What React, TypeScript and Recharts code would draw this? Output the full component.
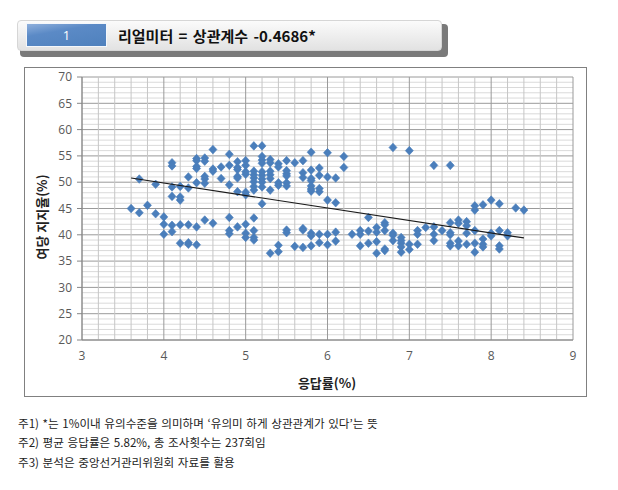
import React from 'react';
import { ScatterChart, Scatter, XAxis, YAxis, CartesianGrid } from 'recharts';

// 응답률(%) values
const responseRate: number[] = [
  3.6, 3.7, 3.7, 3.8, 3.9, 3.9,
  4.0, 4.0, 4.0,
  4.1, 4.1, 4.1, 4.1, 4.1, 4.1,
  4.2, 4.2, 4.2, 4.2, 4.2,
  4.3, 4.3, 4.3, 4.3, 4.3,
  4.4, 4.4, 4.4, 4.4, 4.4, 4.4, 4.4,
  4.5, 4.5, 4.5, 4.5, 4.5, 4.5,
  4.6, 4.6, 4.6, 4.6,
  4.7, 4.7,
  4.8, 4.8, 4.8, 4.8, 4.8, 4.8,
  4.9, 4.9, 4.9, 4.9, 4.9, 4.9, 4.9,
  5.0, 5.0, 5.0, 5.0, 5.0, 5.0, 5.0, 5.0, 5.0,
  5.1, 5.1, 5.1, 5.1, 5.1, 5.1, 5.1, 5.1, 5.1, 5.1, 5.1,
  5.2, 5.2, 5.2, 5.2, 5.2, 5.2, 5.2, 5.2, 5.2, 5.2,
  5.3, 5.3, 5.3, 5.3, 5.3, 5.3, 5.3,
  5.4, 5.4, 5.4, 5.4, 5.4, 5.4,
  5.5, 5.5, 5.5, 5.5, 5.5, 5.5, 5.5, 5.5,
  5.6, 5.6,
  5.7, 5.7, 5.7, 5.7, 5.7, 5.7,
  5.8, 5.8, 5.8, 5.8, 5.8, 5.8, 5.8, 5.8, 5.8, 5.8,
  5.9, 5.9, 5.9, 5.9, 5.9, 5.9,
  6.0, 6.0, 6.0, 6.0, 6.0,
  6.1, 6.1, 6.1, 6.1,
  6.2, 6.2,
  6.3,
  6.4, 6.4, 6.4,
  6.5, 6.5, 6.5,
  6.6, 6.6, 6.6, 6.6,
  6.7, 6.7, 6.7, 6.7, 6.7,
  6.8, 6.8, 6.8, 6.8,
  6.9, 6.9, 6.9, 6.9, 6.9,
  7.0, 7.0, 7.0,
  7.1, 7.1, 7.1,
  7.2,
  7.3, 7.3, 7.3, 7.3,
  7.4,
  7.5, 7.5, 7.5, 7.5, 7.5, 7.5,
  7.6, 7.6, 7.6, 7.6,
  7.7, 7.7, 7.7, 7.7,
  7.8, 7.8, 7.8, 7.8, 7.8,
  7.9, 7.9, 7.9, 7.9,
  8.0, 8.0, 8.0,
  8.1, 8.1, 8.1, 8.1,
  8.2, 8.2,
  8.3,
  8.4,
];

// 여당 지지율(%) values (same order as responseRate)
const partySupport: number[] = [
  45.0, 50.6, 44.2, 45.6, 49.6, 44.0,
  43.4, 42.0, 40.1,
  53.7, 53.1, 49.1, 47.3, 41.8, 40.6,
  49.2, 47.2, 46.6, 41.9, 38.4,
  51.0, 48.9, 41.9, 38.5, 38.2,
  54.5, 54.1, 53.0, 52.6, 49.9, 41.5, 38.1,
  54.6, 54.0, 51.1, 50.6, 49.8, 42.8,
  56.2, 52.5, 52.1, 42.2,
  52.9, 50.7,
  55.3, 53.2, 49.5, 43.3, 40.8, 40.2,
  53.9, 52.8, 52.4, 51.1, 50.8, 48.2, 41.5,
  54.1, 53.2, 52.0, 51.5, 48.1, 47.6, 42.0, 40.3, 39.5,
  56.9, 52.1, 51.4, 50.8, 50.1, 49.2, 48.5, 43.2, 40.8, 39.5, 39.0,
  56.9, 54.9, 54.2, 53.6, 52.0, 51.3, 50.6, 50.0, 49.1, 45.9,
  54.3, 53.7, 52.1, 51.4, 50.7, 48.5, 36.5,
  53.5, 52.9, 49.9, 49.4, 38.0, 36.8,
  54.1, 52.2, 51.6, 51.2, 49.9, 49.3, 40.9, 40.4,
  53.7, 37.8,
  54.1, 51.8, 50.9, 41.2, 40.9, 37.6,
  55.7, 52.3, 50.7, 50.3, 49.3, 48.7, 48.3, 40.3, 39.8, 37.9,
  52.7, 51.3, 48.8, 48.2, 40.1, 38.5,
  55.6, 51.0, 46.6, 40.1, 38.1,
  50.8, 46.1, 40.5, 38.8,
  54.9, 52.8,
  40.1,
  40.8, 40.1, 37.9,
  43.3, 40.7, 38.4,
  41.4, 40.5, 38.7, 36.5,
  42.3, 41.9, 40.8, 37.3, 37.0,
  56.6, 40.3, 39.9, 38.9,
  39.5, 38.9, 38.4, 37.7, 36.7,
  56.0, 38.2, 37.2,
  40.8, 40.1, 38.2,
  41.4,
  53.2, 41.5, 40.1, 38.9,
  40.8,
  53.2, 42.3, 40.4, 40.0, 38.4, 37.9,
  42.8, 42.2, 38.8, 37.9,
  42.5, 41.7, 40.3, 38.2,
  45.5, 44.7, 40.8, 38.4, 36.7,
  45.7, 39.2, 38.2, 37.7,
  46.6, 40.3, 39.8,
  45.9, 40.8, 37.9, 37.3,
  40.4, 39.8,
  45.1,
  44.7,
];

// linear trend line end points
const trendX: number[] = [3.6, 8.4];
const trendY: number[] = [50.8, 39.4];

// grid ticks (every 0.2 on x, every 1 on y); labelled every 1 on x and every 5 on y
const xTicks: number[] = [
  3, 3.2, 3.4, 3.6, 3.8, 4, 4.2, 4.4, 4.6, 4.8, 5, 5.2, 5.4, 5.6, 5.8, 6,
  6.2, 6.4, 6.6, 6.8, 7, 7.2, 7.4, 7.6, 7.8, 8, 8.2, 8.4, 8.6, 8.8, 9,
];
const yTicks: number[] = [
  20, 21, 22, 23, 24, 25, 26, 27, 28, 29, 30, 31, 32, 33, 34, 35, 36, 37, 38, 39,
  40, 41, 42, 43, 44, 45, 46, 47, 48, 49, 50, 51, 52, 53, 54, 55, 56, 57, 58, 59,
  60, 61, 62, 63, 64, 65, 66, 67, 68, 69, 70,
];
const xLabelTicks: number[] = [3, 4, 5, 6, 7, 8, 9];
const yLabelTicks: number[] = [20, 25, 30, 35, 40, 45, 50, 55, 60, 65, 70];

const title = '리얼미터 = 상관계수 -0.4686*';
const xLabel = '응답률(%)';
const yLabel = '여당 지지율(%)';
const notes: string[] = [
  '주1) *는 1%이내 유의수준을 의미하며 ‘유의미 하게 상관관계가 있다’는 뜻',
  '주2) 평균 응답률은 5.82%, 총 조사횟수는 237회임',
  '주3) 분석은 중앙선거관리위원회 자료를 활용',
];

const points = responseRate.map((x, i) => ({ x, y: partySupport[i] }));
const trend = trendX.map((x, i) => ({ x, y: trendY[i] }));

const Diamond = (props: any) => {
  const { cx, cy } = props;
  if (cx == null || cy == null) return <g />;
  const w = 4;
  const h = 4.3;
  return (
    <polygon
      points={`${cx},${cy - h} ${cx + w},${cy} ${cx},${cy + h} ${cx - w},${cy}`}
      fill="#4a7ebb"
      stroke="#4a7ebb"
      strokeWidth={0.6}
    />
  );
};

const Nothing = () => <g />;

const tickFont = '"Open Sans", "Noto Sans", sans-serif';
const korean = '"Noto Sans CJK KR", "Noto Sans", sans-serif';

const isNear = (a: number, b: number) => Math.abs(a - b) < 1e-6;

const XTick = (props: any) => {
  const { x, y, payload } = props;
  const v = payload.value;
  if (!xLabelTicks.some((t) => isNear(t, v))) return <g />;
  return (
    <text x={x} y={y} dy="0.71em" textAnchor="middle" fontSize={12} fill="#595959" fontFamily={tickFont}>
      {v}
    </text>
  );
};

const YTick = (props: any) => {
  const { x, y, payload } = props;
  const v = payload.value;
  if (!yLabelTicks.some((t) => isNear(t, v))) return <g />;
  return (
    <g>
      <line x1={x + 5} y1={y} x2={x + 10} y2={y} stroke="#868686" />
      <text x={x} y={y} dy="0.35em" textAnchor="end" fontSize={12} fill="#595959" fontFamily={tickFont}>
        {v}
      </text>
    </g>
  );
};

const HLine = (props: any) => {
  const { x1, y1, x2, y2, index } = props;
  const major = index % 5 === 0;
  return <line x1={x1} y1={y1} x2={x2} y2={y2} stroke={major ? '#9a9a9a' : '#dadada'} strokeWidth={1} />;
};
const VLine = (props: any) => {
  const { x1, y1, x2, y2, index } = props;
  const major = index % 5 === 0;
  return <line x1={x1} y1={y1} x2={x2} y2={y2} stroke={major ? '#9a9a9a' : '#c6c6c6'} strokeWidth={1} />;
};

export default function App() {
  return (
    <div
      style={{
        position: 'absolute',
        left: 0,
        top: 0,
        width: 618,
        height: 490,
        background: '#fff',
        fontFamily: korean,
        overflow: 'hidden',
      }}
    >
      {/* header */}
      <div style={{ position: 'absolute', left: 20, top: 24, width: 428, height: 33, background: '#7a7a7a', borderRadius: 4 }} />
      <div
        style={{
          position: 'absolute',
          left: 17,
          top: 20,
          width: 425,
          height: 31,
          boxSizing: 'border-box',
          background: 'linear-gradient(#fbfbfb, #e2e2e2)',
          border: '1px solid #d6d6d6',
          borderRadius: 4,
        }}
      />
      <div
        style={{
          position: 'absolute',
          left: 26,
          top: 23,
          width: 81,
          height: 24,
          boxSizing: 'border-box',
          background: 'linear-gradient(170deg, #8fb0dc 0%, #5b8ac6 35%, #4f81bd 100%)',
          border: '1px solid #f4f7fb',
          color: '#fff',
          fontSize: 13,
          lineHeight: '22px',
          textAlign: 'center',
          fontFamily: '"Open Sans", sans-serif',
        }}
      >
        1
      </div>
      <div
        style={{
          position: 'absolute',
          left: 118,
          top: 25,
          fontSize: 15,
          lineHeight: '22px',
          fontWeight: 700,
          color: '#111',
          whiteSpace: 'pre',
          wordSpacing: 2,
        }}
      >
        {title}
      </div>

      {/* chart frame */}
      <div
        style={{
          position: 'absolute',
          left: 24,
          top: 67,
          width: 563,
          height: 330,
          boxSizing: 'border-box',
          border: '1.5px solid #808080',
        }}
      />

      <div style={{ position: 'absolute', left: 0, top: 0 }}>
        <ScatterChart width={618} height={490} margin={{ top: 77, right: 45, bottom: 120, left: 32 }}>
          <CartesianGrid horizontal={HLine} vertical={VLine} />
          <XAxis
            type="number"
            dataKey="x"
            domain={[3, 9]}
            ticks={xTicks}
            interval={0}
            allowDataOverflow
            height={30}
            tick={XTick}
            tickLine={false}
            tickSize={5}
            tickMargin={6}
            axisLine={{ stroke: '#868686' }}
          />
          <YAxis
            type="number"
            dataKey="y"
            domain={[20, 70]}
            ticks={yTicks}
            interval={0}
            allowDataOverflow
            width={50}
            tick={YTick}
            tickLine={false}
            tickSize={5}
            tickMargin={5}
            axisLine={{ stroke: '#868686' }}
          />
          <Scatter data={points} shape={Diamond} isAnimationActive={false} />
          <Scatter data={trend} shape={Nothing} line={{ stroke: '#1a1a1a', strokeWidth: 1.2 }} isAnimationActive={false} />
        </ScatterChart>
      </div>

      {/* axis titles */}
      <div
        style={{
          position: 'absolute',
          left: 227,
          width: 200,
          top: 374,
          textAlign: 'center',
          fontSize: 13,
          fontWeight: 700,
          color: '#222',
          lineHeight: '18px',
        }}
      >
        {xLabel}
      </div>
      <div
        style={{
          position: 'absolute',
          left: 42,
          top: 217,
          transform: 'translate(-50%, -50%) rotate(-90deg)',
          fontSize: 13,
          fontWeight: 700,
          color: '#222',
          whiteSpace: 'nowrap',
          lineHeight: '18px',
        }}
      >
        {yLabel}
      </div>

      {/* notes */}
      {notes.map((n, i) => (
        <div
          key={i}
          style={{
            position: 'absolute',
            left: 18,
            top: [415, 434, 454][i],
            fontSize: 11.6,
            lineHeight: '16px',
            color: '#222',
            whiteSpace: 'pre',
            wordSpacing: 1,
          }}
        >
          {n}
        </div>
      ))}
    </div>
  );
}
